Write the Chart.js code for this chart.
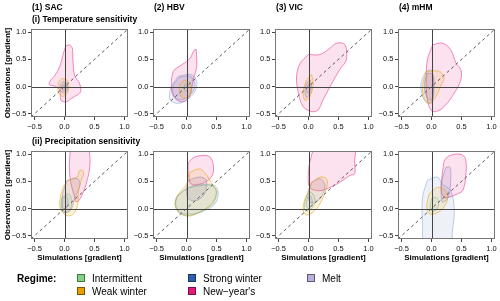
<!DOCTYPE html>
<html>
<head>
<meta charset="utf-8">
<script src="https://cdn.jsdelivr.net/npm/chart.js@4.4.1/dist/chart.umd.min.js"></script>
<style>
  body { margin: 0; background: #fff; width: 500px; height: 301px; position: relative; overflow: hidden;
         font-family: "Liberation Sans", Arial, sans-serif; }
  canvas { position: absolute; }
  .t { position: absolute; white-space: nowrap; transform: translateY(-50%); color: #000; }
  .b { font-weight: bold; }
  .box { position: absolute; width: 6px; height: 6px; border: 1px solid; }
</style>
</head>
<body>
<script>
// panel titles and labels
const models = ['(1) SAC', '(2) HBV', '(3) VIC', '(4) mHM'];
const rowTitles = ['(i) Temperature sensitivity', '(ii) Precipitation sensitivity'];
const regimeKeys = ['int', 'weak', 'strong', 'ny', 'melt'];
const regimeNames = ['Intermittent', 'Weak winter', 'Strong winter', 'New\u2212year\'s', 'Melt'];
const tickValues = [-0.5, 0, 0.5, 1];
const axisMin = -0.56, axisMax = 1.06;

// density contours, [simulated, observed] gradient pairs
const sacTemp = {
  ny: [[0.08,0.77],[0.13,0.71],[0.14,0.49],[0.17,0.2],[0.25,0.06],[0.27,-0.09],[0.22,-0.15],[0.11,-0.22],[0.03,-0.28],[-0.06,-0.25],[-0.08,-0.06],[-0.17,0.01],[-0.25,0.03],[-0.25,0.09],[-0.17,0.19],[-0.08,0.37],[0.02,0.74]],
  weak: [[-0.04,0.15],[0.04,0.12],[0.07,0.0],[0.04,-0.13],[-0.03,-0.18],[-0.1,-0.12],[-0.11,0.0],[-0.09,0.1]],
  melt: [[-0.02,0.1],[0.04,0.06],[0.05,-0.05],[0.0,-0.12],[-0.06,-0.08],[-0.07,0.03]],
  strong: [[-0.01,0.06],[0.03,0.02],[0.02,-0.06],[-0.03,-0.07],[-0.05,0.0]],
  int: [[0,0.03],[0.02,0],[0,-0.03],[-0.02,0]]
};
const hbvTemp = {
  ny: [[0.16,0.69],[0.17,0.37],[0.11,0.12],[0.08,-0.06],[0.03,-0.22],[-0.08,-0.28],[-0.19,-0.22],[-0.25,-0.06],[-0.22,0.28],[-0.08,0.40],[0.06,0.52],[0.12,0.66]],
  strong: [[-0.14,0.19],[0.08,0.22],[0.17,0.09],[0.14,-0.09],[0.0,-0.25],[-0.14,-0.31],[-0.27,-0.25],[-0.28,-0.09],[-0.22,0.06]],
  melt: [[-0.12,0.17],[0.06,0.19],[0.14,0.06],[0.1,-0.1],[-0.02,-0.22],[-0.14,-0.24],[-0.22,-0.15],[-0.22,0.02]],
  weak: [[-0.03,0.12],[0.06,0.06],[0.08,-0.08],[0.02,-0.2],[-0.08,-0.2],[-0.12,-0.06],[-0.1,0.06]],
  int: [[-0.02,0.05],[0.03,0.0],[0.0,-0.08],[-0.05,-0.04]]
};
const vicTemp = {
  ny: [[0,0.59],[0.19,0.59],[0.36,0.71],[0.47,0.8],[0.61,0.77],[0.63,0.49],[0.52,0.31],[0.36,0],[0.24,-0.25],[0.16,-0.43],[0.05,-0.46],[-0.09,-0.37],[-0.17,-0.12],[-0.2,0.19],[-0.14,0.43]],
  weak: [[0.05,0.22],[0.08,0.06],[0.02,-0.19],[-0.06,-0.25],[-0.09,-0.09],[-0.03,0.12]],
  melt: [[0.03,0.12],[0.05,0.0],[0.01,-0.16],[-0.04,-0.2],[-0.06,-0.06],[-0.02,0.08]],
  strong: [[0.02,0.06],[0.03,-0.04],[0.0,-0.12],[-0.03,-0.1],[-0.03,0.0]]
};
const mhmTemp = {
  ny: [[0.02,0.77],[0.18,0.8],[0.32,0.68],[0.41,0.43],[0.49,0.31],[0.49,0.12],[0.38,-0.12],[0.21,-0.37],[0.07,-0.46],[-0.01,-0.43],[-0.07,-0.25],[-0.09,0.06],[-0.07,0.49]],
  weak: [[-0.09,0.28],[0.13,0.28],[0.21,0.15],[0.16,0.03],[0.07,-0.19],[-0.04,-0.31],[-0.12,-0.22],[-0.15,0.0]],
  strong: [[-0.09,0.28],[0.0,0.3],[0.04,0.0],[0.0,-0.3],[-0.12,-0.25],[-0.18,0.0],[-0.14,0.18]],
  melt: [[-0.06,0.25],[0.02,0.22],[0.04,0.0],[0.0,-0.25],[-0.08,-0.2],[-0.12,0.0],[-0.1,0.15]]
};
const sacPrec = {
  ny: [[0.1,1.12],[0.08,0.8],[0.1,0.5],[0.16,0.25],[0.2,0.12],[0.27,0.2],[0.36,0.45],[0.42,0.75],[0.42,1.0],[0.38,1.12]],
  weak: [[0.07,0.52],[0.21,0.58],[0.25,0.7],[0.29,0.71],[0.32,0.64],[0.29,0.55],[0.24,0.36],[0.21,0.03],[0.12,-0.12],[0.02,-0.12],[-0.07,0],[-0.07,0.21],[-0.01,0.42]],
  melt: [[0.04,0.52],[0.2,0.56],[0.26,0.45],[0.18,0.21],[0.1,-0.03],[-0.01,-0.06],[-0.04,0.21]],
  int: [[-0.04,0.21],[0.07,0.27],[0.12,0.12],[0.07,-0.06],[-0.03,-0.06],[-0.06,0.08]],
  strong: [[-0.03,0.2],[0.04,0.22],[0.06,0.1],[0.02,0.0],[-0.04,0.02]]
};
const hbvPrec = {
  ny: [[0.03,0.85],[0.14,0.95],[0.36,0.97],[0.44,0.85],[0.44,0.64],[0.36,0.52],[0.22,0.45],[0.08,0.45],[0.03,0.64]],
  weak: [[0.06,0.67],[0.22,0.73],[0.34,0.61],[0.44,0.42],[0.5,0.3],[0.42,0.09],[0.22,-0.06],[0.03,-0.14],[-0.14,-0.06],[-0.19,0.12],[-0.11,0.3],[0.0,0.45]],
  int: [[-0.17,0.21],[0.0,0.36],[0.22,0.42],[0.44,0.42],[0.5,0.3],[0.44,0.09],[0.28,-0.03],[0.08,-0.12],[-0.11,-0.09],[-0.19,0.06]],
  strong: [[-0.15,0.24],[0.02,0.38],[0.24,0.44],[0.46,0.43],[0.53,0.3],[0.47,0.08],[0.3,-0.04],[0.1,-0.1],[-0.1,-0.07],[-0.18,0.08]],
  melt: [[0.03,0.52],[0.22,0.58],[0.33,0.52],[0.3,0.27],[0.17,0.15],[0.03,0.18],[0,0.36]]
};
const vicPrec = {
  ny: [[0.0,0.7],[0.02,0.85],[0.13,1.12],[0.76,1.12],[0.77,0.88],[0.77,0.64],[0.69,0.61],[0.52,0.48],[0.3,0.36],[0.19,0.33],[0.05,0.36],[0.0,0.45]],
  weak: [[0.05,0.48],[0.19,0.58],[0.3,0.55],[0.31,0.42],[0.22,0.15],[0.11,-0.03],[-0.03,-0.12],[-0.09,-0.03],[-0.06,0.18],[0.02,0.36]],
  melt: [[0.05,0.48],[0.19,0.55],[0.27,0.45],[0.24,0.27],[0.13,0.12],[0.02,0.12],[-0.01,0.3]],
  int: [[-0.03,0.24],[0.05,0.3],[0.11,0.12],[0.02,-0.03],[-0.06,-0.03],[-0.06,0.12]],
  strong: [[-0.02,0.2],[0.04,0.22],[0.06,0.08],[0.0,0.0],[-0.04,0.06]]
};
const mhmPrec = {
  ny: [[0.21,0.88],[0.29,0.97],[0.49,1.0],[0.57,0.91],[0.57,0.58],[0.52,0.33],[0.43,0.27],[0.29,0.21],[0.21,0.21],[0.16,0.33],[0.18,0.64]],
  melt: [[0.24,0.76],[0.31,0.76],[0.32,0.52],[0.28,0.21],[0.18,0.12],[0.16,0.27],[0.18,0.55]],
  strong: [[-0.07,0.52],[0.1,0.58],[0.18,0.45],[0.32,0.33],[0.38,-0.03],[0.35,-0.39],[0.3,-0.7],[-0.1,-0.7],[-0.15,-0.27],[-0.15,0.21]],
  weak: [[-0.04,0.27],[0.1,0.39],[0.21,0.36],[0.27,0.21],[0.21,0.03],[0.07,-0.09],[-0.04,-0.09],[-0.08,0.06]],
  int: [[0.0,0.18],[0.08,0.2],[0.12,0.08],[0.06,-0.04],[-0.02,-0.02]]
};
const panels = [[sacTemp, hbvTemp, vicTemp, mhmTemp], [sacPrec, hbvPrec, vicPrec, mhmPrec]];

const lineCol = { int: 'rgba(110,170,110,0.45)', weak: 'rgba(230,165,0,0.55)', strong: 'rgba(70,120,195,0.35)',
                  ny: 'rgba(230,30,130,0.5)', melt: 'rgba(120,105,175,0.4)' };
const fillCol = { int: 'rgba(150,190,130,0.1)', weak: 'rgba(230,160,0,0.12)', strong: 'rgba(43,95,168,0.08)',
                  ny: 'rgba(230,20,122,0.12)', melt: 'rgba(140,120,195,0.16)' };
const legendFill = { int: '#86cf86', weak: '#e6a100', strong: '#2f62ae', ny: '#e3197a', melt: '#b9afd8' };
const legendEdge = { int: '#3d7a3d', weak: '#7a5500', strong: '#17335e', ny: '#7a0d42', melt: '#5f577d' };
const drawOrder = ['int', 'weak', 'melt', 'strong', 'ny'];

const frameLeft = [31, 153, 275, 398];
const frameTop = [29, 151];
const FW = 97, FH = 88, AX_W = 30, AX_H = 20, PAD_T = 6, PAD_R = 6;
const FONT = '"Liberation Sans", Arial, sans-serif';

function addText(txt, x, y, size, bold, extra) {
  const d = document.createElement('div');
  d.className = 't' + (bold ? ' b' : '');
  d.textContent = txt;
  d.style.left = x + 'px';
  d.style.top = y + 'px';
  d.style.fontSize = size + 'px';
  if (extra) Object.assign(d.style, extra);
  document.body.appendChild(d);
}

function fmt(v) {
  return (v < 0 ? '\u2212' : '') + Math.abs(v).toFixed(1);
}

const framePlugin = {
  id: 'frame',
  afterDatasetsDraw(chart) {
    const { ctx, chartArea: a, scales: { x, y } } = chart;
    ctx.save();
    ctx.beginPath();
    ctx.rect(a.left, a.top, a.right - a.left, a.bottom - a.top);
    ctx.clip();
    ctx.lineWidth = 1;
    ctx.strokeStyle = '#444';
    const x0 = Math.round(x.getPixelForValue(0)) + 0.5;
    const y0 = Math.round(y.getPixelForValue(0)) + 0.5;
    ctx.beginPath();
    ctx.moveTo(x0, a.top); ctx.lineTo(x0, a.bottom);
    ctx.moveTo(a.left, y0); ctx.lineTo(a.right, y0);
    ctx.stroke();
    ctx.setLineDash([3, 3]);
    ctx.strokeStyle = '#555';
    ctx.beginPath();
    ctx.moveTo(x.getPixelForValue(axisMin), y.getPixelForValue(axisMin));
    ctx.lineTo(x.getPixelForValue(axisMax), y.getPixelForValue(axisMax));
    ctx.stroke();
    ctx.restore();
    ctx.save();
    ctx.strokeStyle = '#777';
    ctx.lineWidth = 1;
    ctx.strokeRect(a.left + 0.5, a.top + 0.5, a.right - a.left - 1, a.bottom - a.top - 1);
    ctx.restore();
  }
};

function axis(isX) {
  return {
    type: 'linear', min: axisMin, max: axisMax,
    afterBuildTicks: s => { s.ticks = tickValues.map(v => ({ value: v })); },
    afterFit: s => { if (isX) s.height = AX_H; else s.width = AX_W; },
    ticks: { callback: fmt, color: '#111', font: { family: FONT, size: 7.5 }, padding: isX ? 2.5 : 1.5,
             maxRotation: 0, autoSkip: false },
    grid: { drawOnChartArea: false, tickLength: 3, tickColor: '#444' },
    border: { display: false }
  };
}

panels.forEach((row, r) => {
  row.forEach((panel, c) => {
    const cv = document.createElement('canvas');
    cv.width = AX_W + FW + PAD_R;
    cv.height = PAD_T + FH + AX_H;
    cv.style.left = (frameLeft[c] - AX_W) + 'px';
    cv.style.top = (frameTop[r] - PAD_T) + 'px';
    document.body.appendChild(cv);
    const datasets = drawOrder.filter(k => panel[k]).map(k => ({
      data: panel[k].concat([panel[k][0]]).map(p => ({ x: p[0], y: p[1] })),
      showLine: true, fill: 'shape', tension: 0.35, clip: 0,
      borderColor: lineCol[k], backgroundColor: fillCol[k], borderWidth: 1, pointRadius: 0
    }));
    new Chart(cv, {
      type: 'scatter',
      data: { datasets },
      options: {
        responsive: false, animation: false, devicePixelRatio: 1, events: [],
        layout: { padding: { top: PAD_T, right: PAD_R, left: 0, bottom: 0 } },
        plugins: { legend: { display: false }, tooltip: { enabled: false } },
        scales: { x: axis(true), y: axis(false) }
      },
      plugins: [framePlugin]
    });
    if (r === 1) addText('Simulations [gradient]', frameLeft[c] + FW / 2, 257, 8, true, { transform: 'translate(-50%,-50%)' });
  });
  addText('Observations [gradient]', 7, frameTop[r] + FH / 2, 8, true, { transform: 'translate(-50%,-50%) rotate(-90deg)' });
});

models.forEach((m, c) => addText(m, frameLeft[c] + 1, 7, 8.5, true));
addText(rowTitles[0], 32, 19, 8.5, true);
addText(rowTitles[1], 32, 141, 8.5, true);

// legend
addText('Regime:', 17, 278, 10, true);
const legX = [77, 77, 188, 188, 307];
const legY = [278, 291, 278, 291, 278];
regimeKeys.forEach((k, i) => {
  const b = document.createElement('div');
  b.className = 'box';
  b.style.left = legX[i] + 'px';
  b.style.top = (legY[i] - 4) + 'px';
  b.style.background = legendFill[k];
  b.style.borderColor = legendEdge[k];
  document.body.appendChild(b);
  addText(regimeNames[i], legX[i] + 15, legY[i], 10, false);
});
</script>
</body>
</html>
